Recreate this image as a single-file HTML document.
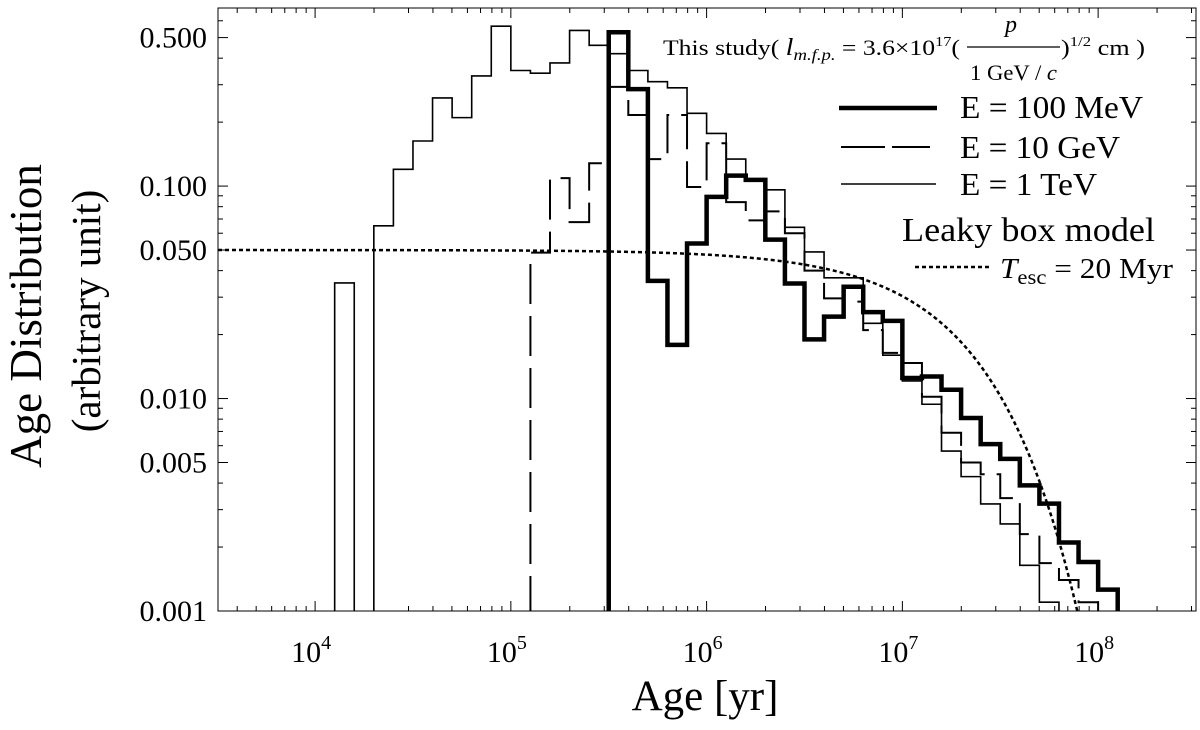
<!DOCTYPE html>
<html><head><meta charset="utf-8"><style>
html,body{margin:0;padding:0;background:#fff;overflow:hidden;width:1200px;height:730px}
svg{display:block}
text{font-family:"Liberation Serif",serif;fill:#000}
</style></head><body>
<svg id="chart" width="1200" height="730" viewBox="0 0 1200 730">
<defs><clipPath id="plotclip"><rect x="218" y="8" width="978" height="603"/></clipPath></defs>
<rect x="218" y="8" width="978" height="603" fill="none" stroke="#000" stroke-width="1"/>
<g id="ticks"></g>
<g id="ylabels"></g>
<g id="xlabels"></g>
<g id="series" clip-path="url(#plotclip)"></g>
<text transform="translate(41,316) rotate(-90)" text-anchor="middle" font-size="45">Age Distribution</text>
<text transform="translate(100,311) rotate(-90)" text-anchor="middle" font-size="41">(arbitrary unit)</text>
<text x="705" y="710" text-anchor="middle" font-size="43">Age [yr]</text>
<g>
<text x="663" y="55" font-size="22" textLength="297" lengthAdjust="spacingAndGlyphs">This study( <tspan font-style="italic" font-size="24">l</tspan><tspan font-style="italic" font-size="16" dy="5">m.f.p.</tspan><tspan dy="-5"> = 3.6×10</tspan><tspan font-size="14" dy="-9">17</tspan><tspan dy="9">(</tspan></text>
<text x="1011" y="32" font-size="24" font-style="italic" text-anchor="middle">p</text>
<line x1="967" y1="47" x2="1060" y2="47" stroke="#000" stroke-width="1.2"/>
<text x="970" y="80" font-size="22" textLength="87" lengthAdjust="spacingAndGlyphs">1 GeV / <tspan font-style="italic">c</tspan></text>
<text x="1061" y="55" font-size="22" textLength="84" lengthAdjust="spacingAndGlyphs">)<tspan font-size="14" dy="-9">1/2</tspan><tspan dy="9"> cm )</tspan></text>
<line x1="839" y1="108" x2="937" y2="108" stroke="#000" stroke-width="4.5"/>
<text x="960" y="118" font-size="32" textLength="183" lengthAdjust="spacingAndGlyphs">E = 100 MeV</text>
<line x1="841" y1="147" x2="930" y2="147" stroke="#000" stroke-width="2" stroke-dasharray="44,7"/>
<text x="960" y="158" font-size="32" textLength="160" lengthAdjust="spacingAndGlyphs">E = 10 GeV</text>
<line x1="841" y1="184" x2="936" y2="184" stroke="#000" stroke-width="1.5"/>
<text x="960" y="195" font-size="32" textLength="137" lengthAdjust="spacingAndGlyphs">E = 1 TeV</text>
<text x="902" y="241" font-size="34" textLength="253" lengthAdjust="spacingAndGlyphs">Leaky box model</text>
<line x1="915" y1="267" x2="990" y2="267" stroke="#000" stroke-width="2.5" stroke-dasharray="4,3"/>
<text x="1000" y="278" font-size="29" textLength="173" lengthAdjust="spacingAndGlyphs"><tspan font-style="italic">T</tspan><tspan font-size="21" dy="6">esc</tspan><tspan dy="-6"> = 20 Myr</tspan></text>
</g>
</svg>
<script>
// Bin edges: log10(age) start, width 0.1 dex
const binWidth = 0.1;
const thinStart = 4.1;
const thinValues = [0.035, 0.00001, 0.065, 0.12, 0.163, 0.26, 0.21, 0.33, 0.566, 0.35, 0.34, 0.38, 0.54, 0.46, 0.42, 0.35, 0.31, 0.29, 0.22, 0.177, 0.134, 0.107, 0.096, 0.064, 0.049, 0.037, 0.037, 0.0226, 0.016, 0.0121, 0.0094, 0.00566, 0.00429, 0.00319, 0.00257, 0.00164, 0.0011, 0.0005];
const thickStart = 5.5;
const thickValues = [0.53, 0.286, 0.0358, 0.0179, 0.0537, 0.089, 0.112, 0.107, 0.056, 0.0348, 0.019, 0.0243, 0.0336, 0.0255, 0.0232, 0.0125, 0.0127, 0.011, 0.0081, 0.0061, 0.0052, 0.0039, 0.0032, 0.0021, 0.0017, 0.00126];
const dashStart = 5.1;
const dashValues = [0.0486, 0.109, 0.0677, 0.128, 0.293, 0.216, 0.134, 0.216, 0.099, 0.159, 0.084, 0.069, 0.076, 0.06, 0.040, 0.0296, 0.0286, 0.021, 0.0164, 0.0147, 0.0102, 0.0069, 0.005, 0.0044, 0.0034, 0.0023, 0.00168, 0.0014, 0.0011];
const leakyNorm = 0.05;
const leakyTesc = 2e7;
const yTickValues = [0.5, 0.1, 0.05, 0.01, 0.005, 0.001];
const yTickLabels = ["0.500", "0.100", "0.050", "0.010", "0.005", "0.001"];
const xTickExps = [4, 5, 6, 7, 8];

const NS = "http://www.w3.org/2000/svg";
const X0 = 218, X1 = 1196, Y0 = 8, Y1 = 611;
const LX0 = 3.504, LX1 = 8.5;
const LY0 = -3, LY1 = Math.log10(0.689);
function xs(lg){ return X0 + (lg - LX0) / (LX1 - LX0) * (X1 - X0); }
function ys(v){ const l = Math.log10(Math.max(v, 1e-6)); return Y1 - (l - LY0) / (LY1 - LY0) * (Y1 - Y0); }
function mk(tag, attrs, parent){ const e = document.createElementNS(NS, tag); for (const k in attrs) e.setAttribute(k, attrs[k]); parent.appendChild(e); return e; }

const ticks = document.getElementById('ticks');
for (let d = 3; d <= 8; d++) {
  for (let m = 1; m <= 9; m++) {
    const lg = d + Math.log10(m);
    if (lg < LX0 || lg > LX1) continue;
    const x = xs(lg), L = m === 1 ? 10 : 5;
    const t1 = mk('line', {x1:x, y1:Y1, x2:x, y2:Y1-L, stroke:'#000', 'stroke-width':1}, ticks);
    
    
    const t2 = mk('line', {x1:x, y1:Y0, x2:x, y2:Y0+L, stroke:'#000', 'stroke-width':1}, ticks);
    
    
  }
}
for (let d = -3; d <= -1; d++) {
  for (let m = 1; m <= 9; m++) {
    const v = m * Math.pow(10, d);
    if (v > 0.689) continue;
    const y = ys(v), major = (m === 1 || m === 5), L = major ? 10 : 5;
    const t1 = mk('line', {x1:X0, y1:y, x2:X0+L, y2:y, stroke:'#000', 'stroke-width':1}, ticks);
    
    
    const t2 = mk('line', {x1:X1, y1:y, x2:X1-L, y2:y, stroke:'#000', 'stroke-width':1}, ticks);
    
    
  }
}
const yl = document.getElementById('ylabels');
yTickValues.forEach((v, i) => {
  const t = mk('text', {x:207, y:ys(v)+10, 'text-anchor':'end', 'font-size':30}, yl);
  
  
  t.textContent = yTickLabels[i];
});
const xl = document.getElementById('xlabels');
xTickExps.forEach(e => {
  const t = mk('text', {x:xs(e)-4, y:662, 'text-anchor':'middle', 'font-size':30}, xl);
  
  
  t.innerHTML = '10<tspan font-size="20" dy="-13">' + e + '</tspan>';
});

const series = document.getElementById('series');
function histPath(start, vals){
  let d = 'M' + xs(start) + ',' + (Y1 + 5);
  vals.forEach((v, i) => {
    const xa = xs(start + i * binWidth), xb = xs(start + (i + 1) * binWidth), y = ys(v);
    d += ' L' + xa + ',' + y + ' L' + xb + ',' + y;
  });
  d += ' L' + xs(start + vals.length * binWidth) + ',' + (Y1 + 5);
  return d;
}
const pThin = mk('path', {d:histPath(thinStart, thinValues), fill:'none', stroke:'#000', 'stroke-width':1.6}, series);


const pDash = mk('path', {d:histPath(dashStart, dashValues), fill:'none', stroke:'#000', 'stroke-width':2, 'stroke-dasharray':'40,12'}, series);


const pThick = mk('path', {d:histPath(thickStart, thickValues), fill:'none', stroke:'#000', 'stroke-width':4.5}, series);



let dl = '';
for (let lg = LX0; lg <= 8.0; lg += 0.01) {
  const v = leakyNorm * Math.exp(-Math.pow(10, lg) / leakyTesc);
  dl += (dl ? ' L' : 'M') + xs(lg).toFixed(2) + ',' + ys(v).toFixed(2);
}
const pLeaky = mk('path', {d:dl, fill:'none', stroke:'#000', 'stroke-width':2.5, 'stroke-dasharray':'4,3'}, series);


</script>
</body></html>
